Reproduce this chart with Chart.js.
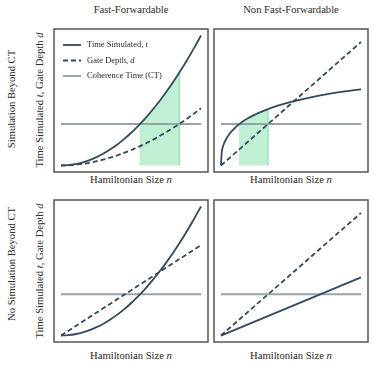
<!DOCTYPE html>
<html>
<head>
<meta charset="utf-8">
<script src="https://cdn.jsdelivr.net/npm/chart.js@4.4.1/dist/chart.umd.min.js"></script>
<style>
  html, body { margin: 0; padding: 0; background: #ffffff; }
  body { width: 374px; height: 367px; position: relative; overflow: hidden;
         font-family: "Liberation Serif", "DejaVu Serif", serif; color: #2b2b2b; }
  .panel { position: absolute; }
  .lbl { position: absolute; white-space: nowrap; font-size: 10.6px; line-height: 1;
         transform: translate(-50%, -50%); }
  .rot { transform: translate(-50%, -50%) rotate(-90deg); }
</style>
</head>
<body>
<div class="lbl" style="left:131px;top:10px">Fast-Forwardable</div>
<div class="lbl" style="left:291px;top:10px">Non Fast-Forwardable</div>

<div class="lbl rot" style="left:12px;top:99px">Simulation Beyond CT</div>
<div class="lbl rot" style="left:12px;top:264px">No Simulation Beyond CT</div>
<div class="lbl rot" style="left:40px;top:100px">Time Simulated <i>t</i>, Gate Depth <i>d</i></div>
<div class="lbl rot" style="left:40px;top:271px">Time Simulated <i>t</i>, Gate Depth <i>d</i></div>

<div class="lbl" style="left:131px;top:180px">Hamiltonian Size <i>n</i></div>
<div class="lbl" style="left:291px;top:180px">Hamiltonian Size <i>n</i></div>
<div class="lbl" style="left:131px;top:356px">Hamiltonian Size <i>n</i></div>
<div class="lbl" style="left:291px;top:356px">Hamiltonian Size <i>n</i></div>

<div class="panel" style="left:52px;top:27px;width:158px;height:147px"><canvas id="pTL"></canvas></div>
<div class="panel" style="left:212px;top:27px;width:158px;height:147px"><canvas id="pTR"></canvas></div>
<div class="panel" style="left:52px;top:198px;width:158px;height:146px"><canvas id="pBL"></canvas></div>
<div class="panel" style="left:212px;top:198px;width:158px;height:146px"><canvas id="pBR"></canvas></div>

<script>
// ---------------- DATA ----------------
const coherenceTime = 0.32;
const ctX = [0, 1];

// Fast-forwardable, simulation beyond CT
const ffX     = [0, 0.05, 0.1, 0.15, 0.2, 0.25, 0.3, 0.35, 0.4, 0.45, 0.5, 0.55, 0.6, 0.65, 0.7, 0.75, 0.8, 0.85, 0.9, 0.95, 1];
const ffTime  = [0, 0.003, 0.01, 0.023, 0.04, 0.063, 0.09, 0.123, 0.16, 0.203, 0.25, 0.303, 0.36, 0.423, 0.49, 0.563, 0.64, 0.723, 0.81, 0.903, 1.0];
const ffDepth = [0, 0.0015, 0.0055, 0.012, 0.021, 0.032, 0.045, 0.06, 0.077, 0.097, 0.118, 0.141, 0.167, 0.194, 0.224, 0.255, 0.288, 0.323, 0.36, 0.399, 0.44];

// Non fast-forwardable, simulation beyond CT
const nffX      = [0, 0.005, 0.01, 0.02, 0.04, 0.06, 0.08, 0.1, 0.13, 0.16, 0.2, 0.25, 0.3, 0.4, 0.5, 0.6, 0.7, 0.8, 0.9, 1];
const nffTime   = [0, 0.10, 0.13, 0.165, 0.21, 0.242, 0.268, 0.29, 0.318, 0.343, 0.368, 0.395, 0.418, 0.458, 0.49, 0.515, 0.537, 0.556, 0.572, 0.586];
const nffDepthX = [0, 1];
const nffDepth  = [0, 0.95];

// Fast-forwardable, no simulation beyond CT
const noFfX      = [0, 0.05, 0.1, 0.15, 0.2, 0.25, 0.3, 0.35, 0.4, 0.45, 0.5, 0.55, 0.6, 0.65, 0.7, 0.75, 0.8, 0.85, 0.9, 0.95, 1];
const noFfTime   = [0, 0.003, 0.01, 0.023, 0.04, 0.063, 0.09, 0.123, 0.16, 0.203, 0.25, 0.303, 0.36, 0.423, 0.49, 0.563, 0.64, 0.723, 0.81, 0.903, 1.0];
const noFfDepthX = [0, 1];
const noFfDepth  = [0, 0.70];

// Non fast-forwardable, no simulation beyond CT
const noNffX     = [0, 1];
const noNffTime  = [0, 0.45];
const noNffDepth = [0, 0.95];

// ---------------- STYLE ----------------
const DARK = '#34495e';
const GREY = '#95a5a6';
const GREEN_FILL = 'rgba(46,204,113,0.30)';
const GREEN_EDGE = 'rgba(46,204,113,0.22)';
const TEXT = '#2b2b2b';
const FONT = '"Liberation Serif", "DejaVu Serif", serif';

// ---------------- HELPERS ----------------
const pts = (xs, ys) => xs.map((x, i) => ({ x: x, y: ys[i] }));
function valueAt(xs, ys, x) {
  for (let i = 1; i < xs.length; i++) {
    if (x <= xs[i]) {
      const f = (x - xs[i - 1]) / (xs[i] - xs[i - 1]);
      return ys[i - 1] + f * (ys[i] - ys[i - 1]);
    }
  }
  return ys[ys.length - 1];
}
function crossing(xs, ys, level) {
  for (let i = 1; i < ys.length; i++) {
    if (ys[i] >= level && ys[i - 1] < level) {
      const f = (level - ys[i - 1]) / (ys[i] - ys[i - 1]);
      return xs[i - 1] + f * (xs[i] - xs[i - 1]);
    }
  }
  return null;
}
// green region: under t between t reaching CT and d reaching CT
function regionPoints(tx, ty, dx, dy, level) {
  const a = crossing(tx, ty, level), b = crossing(dx, dy, level);
  const out = [{ x: a, y: 0 }, { x: a, y: valueAt(tx, ty, a) }];
  tx.forEach((x, i) => { if (x > a && x < b) out.push({ x: x, y: ty[i] }); });
  out.push({ x: b, y: valueAt(tx, ty, b) }, { x: b, y: 0 });
  return out;
}

function ctDataset() {
  return { data: pts(ctX, ctX.map(() => coherenceTime)), borderColor: GREY, borderWidth: 2, order: 3 };
}
function timeDataset(xs, ys) {
  return { data: pts(xs, ys), borderColor: DARK, borderWidth: 1.8, cubicInterpolationMode: 'monotone', order: 1 };
}
function depthDataset(xs, ys) {
  return { data: pts(xs, ys), borderColor: DARK, borderWidth: 1.8, borderDash: [5, 3],
           cubicInterpolationMode: 'monotone', order: 2 };
}
function regionDataset(p) {
  return { data: p, borderColor: GREEN_EDGE, borderWidth: 1, backgroundColor: GREEN_FILL,
           fill: 'origin', tension: 0, order: 5 };
}

const frame = {
  id: 'frame',
  afterDraw(chart) {
    const { ctx, chartArea: a } = chart;
    ctx.save();
    ctx.strokeStyle = '#555555';
    ctx.lineWidth = 1.5;
    ctx.strokeRect(a.left, a.top, a.right - a.left, a.bottom - a.top);
    ctx.restore();
  }
};

const innerLegend = {
  id: 'innerLegend',
  afterDatasetsDraw(chart) {
    const { ctx, chartArea: a } = chart;
    const rows = [
      { dash: [], color: DARK, width: 1.8, parts: [['Time Simulated, ', ''], ['t', 'italic ']] },
      { dash: [5, 3], color: DARK, width: 1.8, parts: [['Gate Depth, ', ''], ['d', 'italic ']] },
      { dash: [], color: GREY, width: 2, parts: [['Coherence Time (CT)', '']] }
    ];
    rows.forEach((r, i) => {
      const y = a.top + 16 + i * 15.5;
      ctx.save();
      ctx.strokeStyle = r.color; ctx.lineWidth = r.width; ctx.setLineDash(r.dash);
      ctx.beginPath(); ctx.moveTo(a.left + 9, y); ctx.lineTo(a.left + 27, y); ctx.stroke();
      ctx.setLineDash([]);
      ctx.fillStyle = TEXT; ctx.textBaseline = 'middle'; ctx.textAlign = 'left';
      let x = a.left + 33;
      r.parts.forEach(([s, st]) => {
        ctx.font = st + '8.5px ' + FONT;
        ctx.fillText(s, x, y);
        x += ctx.measureText(s).width;
      });
      ctx.restore();
    });
  }
};

function makePanel(id, datasets, withLegend) {
  new Chart(document.getElementById(id), {
    type: 'line',
    data: { datasets: datasets },
    options: {
      animation: false,
      responsive: true,
      maintainAspectRatio: false,
      devicePixelRatio: 1,
      layout: { padding: 2 },
      elements: { point: { radius: 0, hoverRadius: 0 }, line: { fill: false } },
      plugins: { legend: { display: false }, tooltip: { enabled: false } },
      events: [],
      scales: {
        x: { type: 'linear', min: -0.05, max: 1.05, display: false },
        y: { type: 'linear', min: -0.05, max: 1.05, display: false }
      }
    },
    plugins: withLegend ? [frame, innerLegend] : [frame]
  });
}

makePanel('pTL', [
  regionDataset(regionPoints(ffX, ffTime, ffX, ffDepth, coherenceTime)),
  ctDataset(),
  depthDataset(ffX, ffDepth),
  timeDataset(ffX, ffTime)
], true);

makePanel('pTR', [
  regionDataset(regionPoints(nffX, nffTime, nffDepthX, nffDepth, coherenceTime)),
  ctDataset(),
  depthDataset(nffDepthX, nffDepth),
  timeDataset(nffX, nffTime)
], false);

makePanel('pBL', [
  ctDataset(),
  depthDataset(noFfDepthX, noFfDepth),
  timeDataset(noFfX, noFfTime)
], false);

makePanel('pBR', [
  ctDataset(),
  depthDataset(noNffX, noNffDepth),
  timeDataset(noNffX, noNffTime)
], false);
</script>
</body>
</html>
